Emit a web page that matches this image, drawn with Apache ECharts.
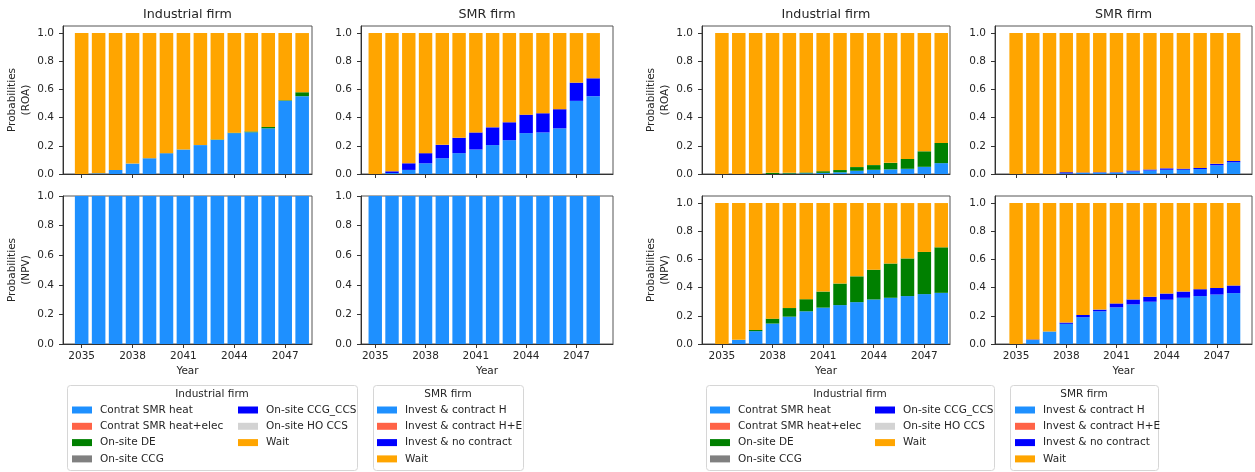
<!DOCTYPE html>
<html><head><meta charset="utf-8">
<script src="https://cdn.jsdelivr.net/npm/echarts@6/dist/echarts.min.js"></script>
<style>html,body{margin:0;padding:0;background:#fff}#c{width:1255px;height:472px}</style>
</head><body><div id="c"></div>
<script>
// ---------- data ----------
const years = [2035,2036,2037,2038,2039,2040,2041,2042,2043,2044,2045,2046,2047,2048];
const xTicks = [2035,2038,2041,2044,2047];
const yTicks = [0,0.2,0.4,0.6,0.8,1.0];
const zeros14 = [0,0,0,0,0,0,0,0,0,0,0,0,0,0];
const ones14  = [1,1,1,1,1,1,1,1,1,1,1,1,1,1];

// left block (case A)
const indRoaA_heat = [0,0.005,0.029,0.074,0.112,0.148,0.174,0.205,0.242,0.29,0.296,0.324,0.52,0.552];
const indRoaA_de   = [0,0,0,0,0,0,0,0,0.003,0.003,0.006,0.01,0.004,0.028];
const indRoaA_wait = [1,0.995,0.971,0.926,0.888,0.852,0.826,0.795,0.755,0.707,0.698,0.666,0.476,0.42];
const smrRoaA_h    = [0,0.007,0.029,0.076,0.112,0.148,0.174,0.205,0.24,0.29,0.295,0.324,0.519,0.552];
const smrRoaA_nc   = [0,0.012,0.047,0.072,0.095,0.109,0.121,0.126,0.127,0.131,0.136,0.136,0.129,0.127];
const smrRoaA_wait = [1,0.981,0.924,0.852,0.793,0.743,0.705,0.669,0.633,0.579,0.569,0.54,0.352,0.321];
const indNpvA_heat = ones14;
const indNpvA_wait = zeros14;
const smrNpvA_h    = ones14;
const smrNpvA_wait = zeros14;

// right block (case B)
const indRoaB_heat = [0,0,0,0,0.003,0.005,0.008,0.012,0.023,0.03,0.033,0.037,0.051,0.077];
const indRoaB_de   = [0,0,0,0.008,0.005,0.006,0.012,0.016,0.026,0.033,0.046,0.07,0.11,0.143];
const indRoaB_wait = [1,1,1,0.992,0.992,0.989,0.98,0.972,0.951,0.937,0.921,0.893,0.839,0.78];
const smrRoaB_h    = [0,0,0,0.005,0.008,0.01,0.01,0.018,0.025,0.03,0.03,0.035,0.062,0.083];
const smrRoaB_nc   = [0,0,0,0.008,0.003,0.003,0.003,0.007,0.007,0.01,0.008,0.008,0.01,0.01];
const smrRoaB_wait = [1,1,1,0.987,0.989,0.987,0.987,0.975,0.968,0.96,0.962,0.957,0.928,0.907];
const indNpvB_heat = [0,0.03,0.091,0.145,0.194,0.232,0.258,0.276,0.297,0.316,0.328,0.34,0.354,0.363];
const indNpvB_de   = [0,0,0.009,0.035,0.061,0.086,0.114,0.153,0.183,0.211,0.243,0.267,0.299,0.323];
const indNpvB_wait = [1,0.97,0.9,0.82,0.745,0.682,0.628,0.571,0.52,0.473,0.429,0.393,0.347,0.314];
const smrNpvB_h    = [0,0.028,0.089,0.143,0.19,0.232,0.26,0.281,0.3,0.314,0.328,0.34,0.351,0.361];
const smrNpvB_nc   = [0,0.004,0,0.009,0.016,0.012,0.028,0.035,0.035,0.044,0.044,0.049,0.047,0.054];
const smrNpvB_wait = [1,0.968,0.911,0.848,0.794,0.756,0.712,0.684,0.665,0.642,0.628,0.611,0.602,0.585];

const indNames = ['Contrat SMR heat','Contrat SMR heat+elec','On-site DE','On-site CCG','On-site CCG_CCS','On-site HO CCS','Wait'];
const smrNames = ['Invest & contract H','Invest & contract H+E','Invest & no contract','Wait'];

// ---------- styling ----------
const colors = {
  'Contrat SMR heat':'#1e90ff','Contrat SMR heat+elec':'#ff6347','On-site DE':'#008000',
  'On-site CCG':'#808080','On-site CCG_CCS':'#0000ff','On-site HO CCS':'#d3d3d3','Wait':'#ffa500',
  'Invest & contract H':'#1e90ff','Invest & contract H+E':'#ff6347','Invest & no contract':'#0000ff'
};
const FONT = 'DejaVu Sans';
const TXT = '#262626';

function indSet(heat, de, wait){ return [heat, zeros14, de, zeros14, zeros14, zeros14, wait]; }
function smrSet(h, nc, wait){ return [h, zeros14, nc, wait]; }

const panels = [
  {g:{left:63,top:26,width:249,height:148}, xr:[2033.9,2048.58], ymax:1.05, bottom:false, yname:'Probabilities\n(ROA)', title:'Industrial firm', names:indNames, vals:indSet(indRoaA_heat, indRoaA_de, indRoaA_wait)},
  {g:{left:361,top:26,width:252,height:148}, xr:[2034.15,2049.18], ymax:1.05, bottom:false, yname:'', title:'SMR firm', names:smrNames, vals:smrSet(smrRoaA_h, smrRoaA_nc, smrRoaA_wait)},
  {g:{left:63,top:196,width:249,height:148}, xr:[2033.9,2048.58], ymax:1.0, bottom:true, yname:'Probabilities\n(NPV)', title:'', names:indNames, vals:indSet(indNpvA_heat, zeros14, indNpvA_wait)},
  {g:{left:361,top:196,width:252,height:148}, xr:[2034.15,2049.18], ymax:1.0, bottom:true, yname:'', title:'', names:smrNames, vals:smrSet(smrNpvA_h, zeros14, smrNpvA_wait)},
  {g:{left:702,top:26,width:248,height:148}, xr:[2033.82,2048.52], ymax:1.05, bottom:false, yname:'Probabilities\n(ROA)', title:'Industrial firm', names:indNames, vals:indSet(indRoaB_heat, indRoaB_de, indRoaB_wait)},
  {g:{left:995,top:26,width:257,height:148}, xr:[2033.74,2049.1], ymax:1.05, bottom:false, yname:'', title:'SMR firm', names:smrNames, vals:smrSet(smrRoaB_h, smrRoaB_nc, smrRoaB_wait)},
  {g:{left:702,top:196,width:248,height:148}, xr:[2033.82,2048.52], ymax:1.05, bottom:true, yname:'Probabilities\n(NPV)', title:'', names:indNames, vals:indSet(indNpvB_heat, indNpvB_de, indNpvB_wait)},
  {g:{left:995,top:196,width:257,height:148}, xr:[2033.74,2049.1], ymax:1.05, bottom:true, yname:'', title:'', names:smrNames, vals:smrSet(smrNpvB_h, smrNpvB_nc, smrNpvB_wait)}
];

const grid=[], xAxis=[], yAxis=[], series=[], graphic=[];
panels.forEach((p,i)=>{
  grid.push(Object.assign({show:true, borderColor:'#555', borderWidth:1, backgroundColor:'transparent'}, p.g));
  xAxis.push({
    gridIndex:i, type:'value', min:p.xr[0], max:p.xr[1],
    axisLine:{show:true, onZero:false, lineStyle:{color:'#333', width:1}},
    axisTick:{show:true, length:4, customValues:xTicks, lineStyle:{color:'#333'}},
    axisLabel:{show:p.bottom, customValues:xTicks, formatter:v=>String(Math.round(v)), margin:7, fontSize:10.5, color:TXT, fontFamily:FONT},
    splitLine:{show:false},
    name:p.bottom?'Year':'', nameLocation:'middle', nameGap:22,
    nameTextStyle:{fontSize:10.5, color:TXT, fontFamily:FONT}
  });
  yAxis.push({
    gridIndex:i, type:'value', min:0, max:p.ymax,
    axisLine:{show:true, onZero:false, lineStyle:{color:'#333', width:1}},
    axisTick:{show:true, length:4, customValues:yTicks, lineStyle:{color:'#333'}},
    axisLabel:{customValues:yTicks, formatter:v=>Number(v).toFixed(1), margin:9, fontSize:10.5, color:TXT, fontFamily:FONT},
    splitLine:{show:false},
    name:p.yname, nameLocation:'middle', nameRotate:90, nameGap:27,
    nameTextStyle:{fontSize:10.5, lineHeight:14, color:TXT, fontFamily:FONT, align:'center'}
  });
  p.names.forEach((n,k)=>{
    series.push({
      type:'bar', name:n, xAxisIndex:i, yAxisIndex:i, stack:'s'+i, barWidth:'80%',
      encode:{x:1, y:0},
      itemStyle:{color:colors[n]}, emphasis:{disabled:true},
      data: years.map((y,j)=>[p.vals[k][j], y])
    });
  });
  if(p.title){
    graphic.push({type:'text', x:p.g.left+p.g.width/2, y:15, style:{text:p.title, font:'12.7px "DejaVu Sans"', fill:TXT, align:'center', verticalAlign:'middle'}});
  }
});

// legend boxes
const boxes = [
  {x:67, w:290, title:'Industrial firm'},
  {x:373, w:150, title:'SMR firm'},
  {x:706, w:288, title:'Industrial firm'},
  {x:1010, w:148, title:'SMR firm'}
];
boxes.forEach(b=>{
  graphic.push({type:'rect', z:-1, shape:{x:b.x+0.5, y:385.5, width:b.w, height:85, r:3}, style:{fill:'#fff', stroke:'#d6d6d6', lineWidth:1}});
  graphic.push({type:'text', x:b.x+b.w/2, y:394, style:{text:b.title, font:'10.5px "DejaVu Sans"', fill:TXT, align:'center', verticalAlign:'middle'}});
});

function leg(left, data){
  return {
    left:left, top:403, orient:'vertical', padding:0, itemGap:2.3, itemWidth:20, itemHeight:7,
    icon:'rect', selectedMode:false, data:data,
    textStyle:{fontSize:10.5, lineHeight:14, color:TXT, fontFamily:FONT, padding:[0,0,0,3]}
  };
}
const legend = [
  leg(72, indNames.slice(0,4)), leg(238, indNames.slice(4)), leg(377, smrNames),
  leg(710, indNames.slice(0,4)), leg(875, indNames.slice(4)), leg(1015, smrNames)
];

const chart = echarts.init(document.getElementById('c'), null, {renderer:'canvas'});
chart.setOption({animation:false, backgroundColor:'#fff', grid, xAxis, yAxis, series, legend, graphic:{elements:graphic}});
</script></body></html>
